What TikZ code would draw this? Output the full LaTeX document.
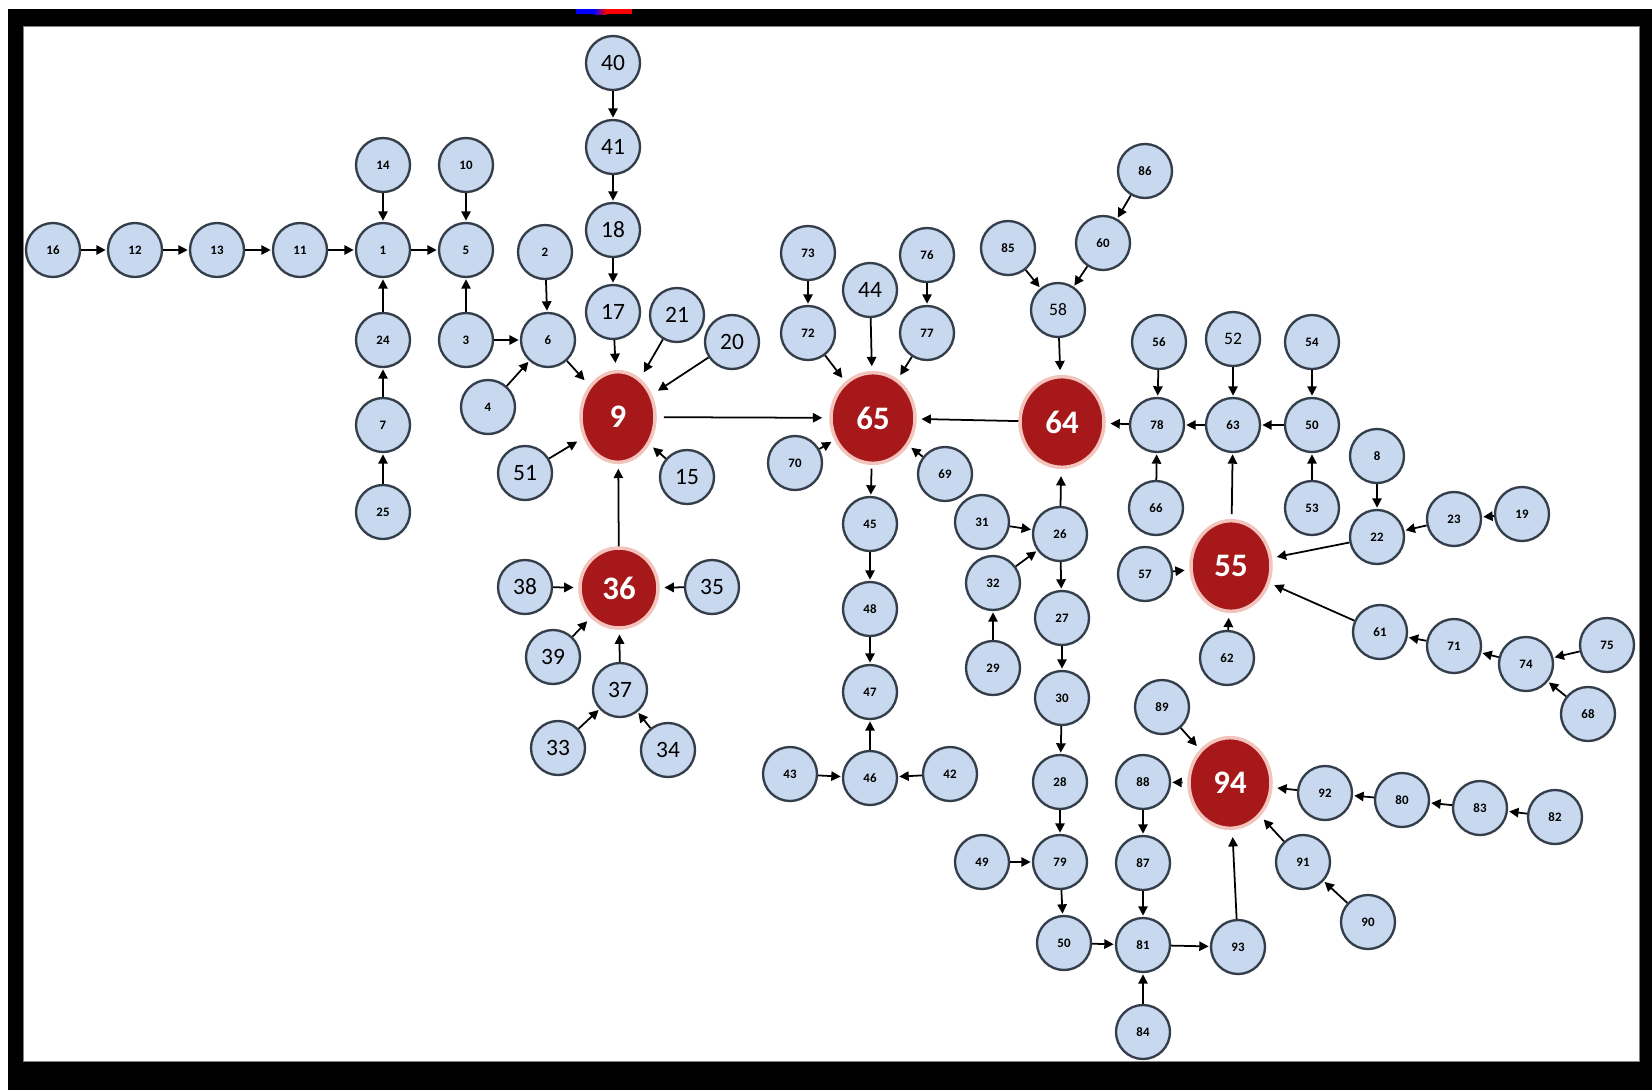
\documentclass[tikz,border=0pt]{standalone}
\usepackage{fontspec}
\setmainfont{Carlito}
\usetikzlibrary{arrows.meta,shapes.geometric}

\definecolor{nodeblue}{RGB}{200,216,238}
\definecolor{rimgray}{RGB}{52,62,74}
\definecolor{hubred}{RGB}{166,24,26}
\definecolor{hubrim}{RGB}{242,196,188}

\begin{document}
\begin{tikzpicture}[
        x=0.03cm, y=-0.03cm,
        vtx/.style={circle, draw=rimgray, fill=nodeblue, line width=2pt, minimum size=1.62cm, inner sep=0pt, font=\bfseries\fontsize{11}{11}\selectfont},
        big/.style={font=\fontsize{20}{20}\selectfont},
        mid/.style={font=\fontsize{15}{15}\selectfont},
        hub/.style={ellipse, draw=hubrim, fill=hubred, line width=3pt, text=white, inner sep=0pt, minimum width=2.46cm, minimum height=2.72cm, font=\bfseries\fontsize{28}{28}\selectfont},
        arr/.style={-{Triangle[length=8pt,width=8pt]}, line width=1.5pt, shorten >=1pt}
    ]
    \useasboundingbox (0,0) rectangle (1652,1090);
    % frame
    \fill[white] (0,0) rectangle (1652,1090);
    \fill[black] (8,9) rectangle (1652,1090);
    \draw[gray, fill=white, line width=0.8pt] (23,26) rectangle (1639,1061);
    \fill[blue] (576,9) rectangle (594,14);
    \shade[left color=blue, right color=red] (594,9) rectangle (606,14);
    \fill[red] (606,9) rectangle (632,14);

    % hubs
    \node[hub, minimum width=2.22cm] (n9) at (618,417) {9};
    \node[hub, minimum width=2.52cm] (n65) at (873,418) {65};
    \node[hub, minimum width=2.52cm] (n64) at (1062,422) {64};
    \node[hub, minimum width=2.4cm] (n55) at (1231,566) {55};
    \node[hub] (n94) at (1230,783) {94};
    \node[hub, minimum width=2.34cm, minimum height=2.4cm] (n36) at (619,588) {36};

    % left branch
    \node[vtx] (n16) at (53,250) {16};
    \node[vtx] (n12) at (135,250) {12};
    \node[vtx] (n13) at (217,250) {13};
    \node[vtx] (n11) at (300,250) {11};
    \node[vtx] (n1) at (383,250) {1};
    \node[vtx] (n5) at (466,250) {5};
    \node[vtx] (n14) at (383,165) {14};
    \node[vtx] (n10) at (466,165) {10};
    \node[vtx] (n24) at (383,340) {24};
    \node[vtx] (n3) at (466,340) {3};
    \node[vtx] (n7) at (383,425) {7};
    \node[vtx] (n25) at (383,512) {25};
    \node[vtx] (n4) at (488,407) {4};
    \node[vtx] (n2) at (545,252) {2};
    \node[vtx] (n6) at (548,340) {6};

    % around 9
    \node[vtx, big] (n40) at (613,63) {40};
    \node[vtx, big] (n41) at (613,147) {41};
    \node[vtx, big] (n18) at (613,230) {18};
    \node[vtx, big] (n17) at (613,312) {17};
    \node[vtx, big] (n21) at (677,315) {21};
    \node[vtx, big] (n20) at (732,342) {20};
    \node[vtx, big] (n51) at (525,473) {51};
    \node[vtx, big] (n15) at (687,477) {15};

    % around 36
    \node[vtx, big] (n38) at (525,587) {38};
    \node[vtx, big] (n35) at (712,587) {35};
    \node[vtx, big] (n39) at (553,657) {39};
    \node[vtx, big] (n37) at (620,690) {37};
    \node[vtx, big] (n33) at (558,748) {33};
    \node[vtx, big] (n34) at (668,750) {34};

    % around 65
    \node[vtx] (n73) at (808,253) {73};
    \node[vtx] (n72) at (808,333) {72};
    \node[vtx, big] (n44) at (870,290) {44};
    \node[vtx] (n76) at (927,255) {76};
    \node[vtx] (n77) at (927,333) {77};
    \node[vtx] (n70) at (795,463) {70};
    \node[vtx] (n69) at (945,474) {69};
    \node[vtx] (n45) at (870,524) {45};
    \node[vtx] (n48) at (870,609) {48};
    \node[vtx] (n47) at (870,692) {47};
    \node[vtx] (n46) at (870,778) {46};
    \node[vtx] (n43) at (790,774) {43};
    \node[vtx] (n42) at (950,774) {42};

    % around 64
    \node[vtx] (n86) at (1145,171) {86};
    \node[vtx] (n85) at (1008,248) {85};
    \node[vtx] (n60) at (1103,243) {60};
    \node[vtx, mid] (n58) at (1058,310) {58};
    \node[vtx] (n31) at (982,522) {31};
    \node[vtx] (n26) at (1060,534) {26};
    \node[vtx] (n32) at (993,583) {32};
    \node[vtx] (n29) at (993,668) {29};
    \node[vtx] (n27) at (1062,618) {27};
    \node[vtx] (n30) at (1062,698) {30};
    \node[vtx] (n28) at (1060,782) {28};
    \node[vtx] (n49) at (982,862) {49};
    \node[vtx] (n79) at (1060,862) {79};
    \node[vtx] (n50b) at (1064,943) {50};

    % around 55
    \node[vtx] (n56) at (1159,342) {56};
    \node[vtx, mid] (n52) at (1233,339) {52};
    \node[vtx] (n54) at (1312,342) {54};
    \node[vtx] (n78) at (1157,425) {78};
    \node[vtx] (n63) at (1233,425) {63};
    \node[vtx] (n50a) at (1312,425) {50};
    \node[vtx] (n66) at (1156,508) {66};
    \node[vtx] (n53) at (1312,508) {53};
    \node[vtx] (n8) at (1377,456) {8};
    \node[vtx] (n22) at (1377,537) {22};
    \node[vtx] (n23) at (1454,519) {23};
    \node[vtx] (n19) at (1522,514) {19};
    \node[vtx] (n57) at (1145,574) {57};
    \node[vtx] (n62) at (1227,658) {62};
    \node[vtx] (n61) at (1380,632) {61};
    \node[vtx] (n71) at (1454,646) {71};
    \node[vtx] (n74) at (1526,664) {74};
    \node[vtx] (n75) at (1607,645) {75};
    \node[vtx] (n68) at (1588,714) {68};

    % around 94
    \node[vtx] (n89) at (1162,707) {89};
    \node[vtx] (n88) at (1143,782) {88};
    \node[vtx] (n92) at (1325,793) {92};
    \node[vtx] (n80) at (1402,800) {80};
    \node[vtx] (n83) at (1480,808) {83};
    \node[vtx] (n82) at (1555,817) {82};
    \node[vtx] (n87) at (1143,863) {87};
    \node[vtx] (n91) at (1303,862) {91};
    \node[vtx] (n90) at (1368,922) {90};
    \node[vtx] (n81) at (1143,945) {81};
    \node[vtx] (n93) at (1238,947) {93};
    \node[vtx] (n84) at (1143,1032) {84};

    % connectors
    \draw[arr] (n16) -- (n12);
    \draw[arr] (n12) -- (n13);
    \draw[arr] (n13) -- (n11);
    \draw[arr] (n11) -- (n1);
    \draw[arr] (n14) -- (n1);
    \draw[arr] (n24) -- (n1);
    \draw[arr] (n7) -- (n24);
    \draw[arr] (n25) -- (n7);
    \draw[arr] (n1) -- (n5);
    \draw[arr] (n10) -- (n5);
    \draw[arr] (n3) -- (n5);
    \draw[arr] (n3) -- (n6);
    \draw[arr] (n2) -- (n6);
    \draw[arr] (n4) -- (n6);
    \draw[arr, shorten >=6pt] (n6) -- (n9);
    \draw[arr] (n40) -- (n41);
    \draw[arr] (n41) -- (n18);
    \draw[arr] (n18) -- (n17);
    \draw[arr, shorten >=6pt] (n17) -- (n9);
    \draw[arr, shorten >=6pt] (n21) -- (n9);
    \draw[arr, shorten >=6pt] (n20) -- (n9);
    \draw[arr, shorten >=6pt] (n51) -- (n9);
    \draw[arr, shorten >=4pt] (n15) -- (n9);
    \draw[arr, shorten >=4pt] (n36) -- (n9);
    \draw[arr, shorten >=4pt] (n38) -- (n36);
    \draw[arr, shorten >=4pt] (n35) -- (n36);
    \draw[arr, shorten >=4pt] (n39) -- (n36);
    \draw[arr, shorten >=4pt] (n37) -- (n36);
    \draw[arr] (n33) -- (n37);
    \draw[arr] (n34) -- (n37);
    \draw[arr, shorten <=6pt, shorten >=6pt] (n9) -- (n65);
    \draw[arr] (n73) -- (n72);
    \draw[arr, shorten >=4pt] (n72) -- (n65);
    \draw[arr, shorten >=4pt] (n44) -- (n65);
    \draw[arr] (n76) -- (n77);
    \draw[arr, shorten >=4pt] (n77) -- (n65);
    \draw[arr, shorten >=3pt] (n70) -- (n65);
    \draw[arr, shorten >=3pt] (n69) -- (n65);
    \draw[arr, shorten <=3pt] (n65) -- (n45);
    \draw[arr] (n45) -- (n48);
    \draw[arr] (n48) -- (n47);
    \draw[arr] (n46) -- (n47);
    \draw[arr] (n43) -- (n46);
    \draw[arr] (n42) -- (n46);
    \draw[arr, shorten >=4pt] (n64) -- (n65);
    \draw[arr] (n86) -- (n60);
    \draw[arr] (n60) -- (n58);
    \draw[arr] (n85) -- (n58);
    \draw[arr, shorten >=4pt] (n58) -- (n64);
    \draw[arr, shorten >=6pt] (n26) -- (n64);
    \draw[arr] (n31) -- (n26);
    \draw[arr] (n32) -- (n26);
    \draw[arr] (n29) -- (n32);
    \draw[arr] (n26) -- (n27);
    \draw[arr] (n27) -- (n30);
    \draw[arr] (n30) -- (n28);
    \draw[arr] (n28) -- (n79);
    \draw[arr] (n49) -- (n79);
    \draw[arr] (n79) -- (n50b);
    \draw[arr] (n50b) -- (n81);
    \draw[arr, shorten >=4pt] (n78) -- (n64);
    \draw[arr] (n56) -- (n78);
    \draw[arr] (n66) -- (n78);
    \draw[arr] (n63) -- (n78);
    \draw[arr] (n52) -- (n63);
    \draw[arr] (n50a) -- (n63);
    \draw[arr] (n54) -- (n50a);
    \draw[arr] (n53) -- (n50a);
    \draw[arr, shorten <=4pt] (n55) -- (n63);
    \draw[arr, shorten >=4pt] (n57) -- (n55);
    \draw[arr, shorten >=4pt] (n62) -- (n55);
    \draw[arr, shorten >=4pt] (n22) -- (n55);
    \draw[arr] (n8) -- (n22);
    \draw[arr] (n23) -- (n22);
    \draw[arr] (n19) -- (n23);
    \draw[arr, shorten >=4pt] (n61) -- (n55);
    \draw[arr] (n71) -- (n61);
    \draw[arr] (n74) -- (n71);
    \draw[arr] (n75) -- (n74);
    \draw[arr] (n68) -- (n74);
    \draw[arr, shorten >=4pt] (n89) -- (n94);
    \draw[arr, shorten <=4pt] (n94) -- (n88);
    \draw[arr] (n88) -- (n87);
    \draw[arr] (n87) -- (n81);
    \draw[arr] (n84) -- (n81);
    \draw[arr] (n81) -- (n93);
    \draw[arr, shorten >=6pt] (n93) -- (n94);
    \draw[arr, shorten >=4pt] (n92) -- (n94);
    \draw[arr] (n80) -- (n92);
    \draw[arr] (n83) -- (n80);
    \draw[arr] (n82) -- (n83);
    \draw[arr, shorten >=4pt] (n91) -- (n94);
    \draw[arr] (n90) -- (n91);
\end{tikzpicture}
\end{document}
